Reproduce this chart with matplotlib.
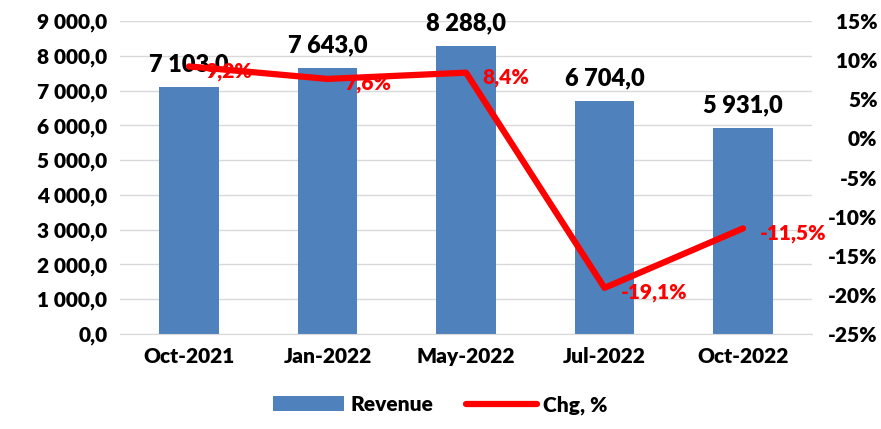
import matplotlib
matplotlib.use("Agg")
import matplotlib.pyplot as plt
import matplotlib.ticker as mticker

plt.rcParams['font.family'] = ['Lato', 'DejaVu Sans']
plt.rcParams['font.weight'] = 'heavy'

months = ['Oct-2021', 'Jan-2022', 'May-2022', 'Jul-2022', 'Oct-2022']
revenue = [7103.0, 7643.0, 8288.0, 6704.0, 5931.0]
chg = [9.2, 7.6, 8.4, -19.1, -11.5]


def fmt_num(v, pos=None):
    s = f"{v:,.1f}".replace(",", " ").replace(".", ",")
    return s


fig = plt.figure(figsize=(8.81, 4.29), dpi=100)
ax = fig.add_axes([0.136, 0.2214, 0.786, 0.7296])
ax2 = ax.twinx()

x = list(range(len(months)))
bars = ax.bar(x, revenue, width=0.43, color='#4F81BD', label='Revenue', zorder=2)
ax.set_ylim(0, 9000)
ax.set_xlim(-0.5, len(months) - 0.5)
ax.yaxis.set_major_locator(mticker.MultipleLocator(1000))
ax.yaxis.set_major_formatter(mticker.FuncFormatter(fmt_num))
ax.grid(axis='y', color='#D9D9D9', linewidth=1, zorder=0)
ax.set_axisbelow(True)
ax.set_xticks(x)
ax.set_xticklabels(months)
for s in ['top', 'right', 'left']:
    ax.spines[s].set_visible(False)
ax.spines['bottom'].set_color('#D9D9D9')
ax.tick_params(axis='both', length=0, labelsize=15, pad=9)
for lbl in ax.get_xticklabels() + ax.get_yticklabels():
    lbl.set_fontweight('heavy')

for xi, v in zip(x, revenue):
    ax.text(xi, v + 330, fmt_num(v), ha='center', va='bottom', fontsize=17, fontweight='heavy', zorder=3)

line, = ax2.plot(x, chg, color='#FF0000', linewidth=4.5, label='Chg, %', zorder=4, solid_capstyle='round')
ax2.set_ylim(-25, 15)
ax2.yaxis.set_major_locator(mticker.MultipleLocator(5))
ax2.yaxis.set_major_formatter(mticker.FuncFormatter(lambda v, p: f"{v:.0f}%"))
for s in ['top', 'right', 'left', 'bottom']:
    ax2.spines[s].set_visible(False)
ax2.tick_params(axis='y', length=0, labelsize=15, pad=47)
for lbl in ax2.get_yticklabels():
    lbl.set_fontweight('heavy')
    lbl.set_horizontalalignment('right')

for xi, v in zip(x, chg):
    ax2.text(xi + 0.12, v - 0.6, f"{v:.1f}%".replace(".", ","), ha='left', va='center',
             fontsize=15, fontweight='heavy', color='#FF0000', zorder=5)

fig.legend(handles=[bars, line], labels=['Revenue', 'Chg, %'], loc='lower center',
           bbox_to_anchor=(0.5, -0.01), ncol=2, frameon=False,
           handlelength=3.4, handletextpad=0.3, columnspacing=1.6,
           prop={'weight': 'heavy', 'size': 15})

fig.savefig('out.png', dpi=100)
